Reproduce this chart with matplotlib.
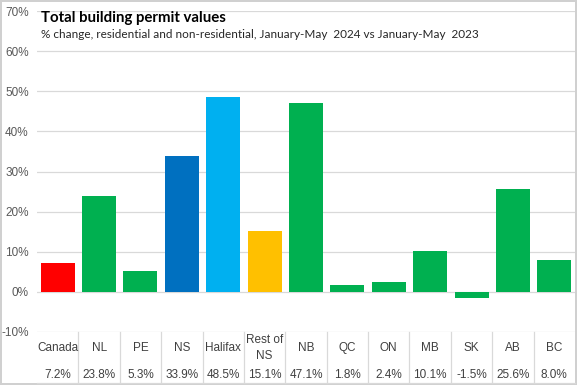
import numpy as np
import matplotlib
matplotlib.use("Agg")
import matplotlib.pyplot as plt
import matplotlib.transforms as mtransforms

regions = ["Canada", "NL", "PE", "NS", "Halifax", "Rest of\nNS", "NB", "QC", "ON", "MB", "SK", "AB", "BC"]
pct_change = [7.2, 23.8, 5.3, 33.9, 48.5, 15.1, 47.1, 1.8, 2.4, 10.1, -1.5, 25.6, 8.0]
colors = ["#FF0000", "#00B050", "#00B050", "#0070C0", "#00B0F0", "#FFC000", "#00B050",
          "#00B050", "#00B050", "#00B050", "#00B050", "#00B050", "#00B050"]
yticks = [-10, 0, 10, 20, 30, 40, 50, 60, 70]

plt.rcParams["font.family"] = ["Liberation Sans", "DejaVu Sans"]
fig = plt.figure(figsize=(5.77, 3.85), dpi=100)
fig.patch.set_edgecolor("#d0d0d0"); fig.patch.set_linewidth(1.5)
ax = fig.add_axes([37/577, 53/385, 538/577, 321/385])

x = np.arange(len(regions))
ax.bar(x, pct_change, width=0.82, color=colors, zorder=3)
ax.set_xlim(-0.5, len(regions) - 0.5)
ax.set_ylim(-10, 70)
ax.set_yticks(yticks)
ax.set_yticklabels([f"{v}%" for v in yticks], color="#595959", fontsize=8.5)
ax.tick_params(axis="y", length=0, pad=6)
ax.set_xticks([])
ax.grid(axis="y", color="#d9d9d9", lw=0.9, zorder=0)
for s in ax.spines.values(): s.set_visible(False)

# data table under the axis
tr = mtransforms.blended_transform_factory(ax.transData, ax.transAxes)
bot = -51/321
ax.plot([-0.5, len(regions) - 0.5], [bot, bot], color="#d9d9d9", lw=0.9, transform=tr, clip_on=False)
for b in np.arange(0.5, len(regions) - 1, 1.0):
    ax.plot([b, b], [0, bot], color="#d9d9d9", lw=0.9, transform=tr, clip_on=False)
for i, (r, v) in enumerate(zip(regions, pct_change)):
    ax.text(i, -16/321, r, transform=tr, ha="center", va="center", fontsize=8.5, color="#404040", linespacing=1.35)
    ax.text(i, -43/321, f"{v:.1f}%", transform=tr, ha="center", va="center", fontsize=8.5, color="#404040")

fig.text(41/577, 1 - 18/385, "Total building permit values", fontsize=10.8, fontweight="bold",
         family=["Lato", "DejaVu Sans"], va="center", color="#000000")
fig.text(41/577, 1 - 35/385, "% change, residential and non-residential, January-May  2024 vs January-May  2023",
         fontsize=8.45, family=["Lato", "DejaVu Sans"], va="center", color="#262626")

fig.savefig("out.png", dpi=100)
